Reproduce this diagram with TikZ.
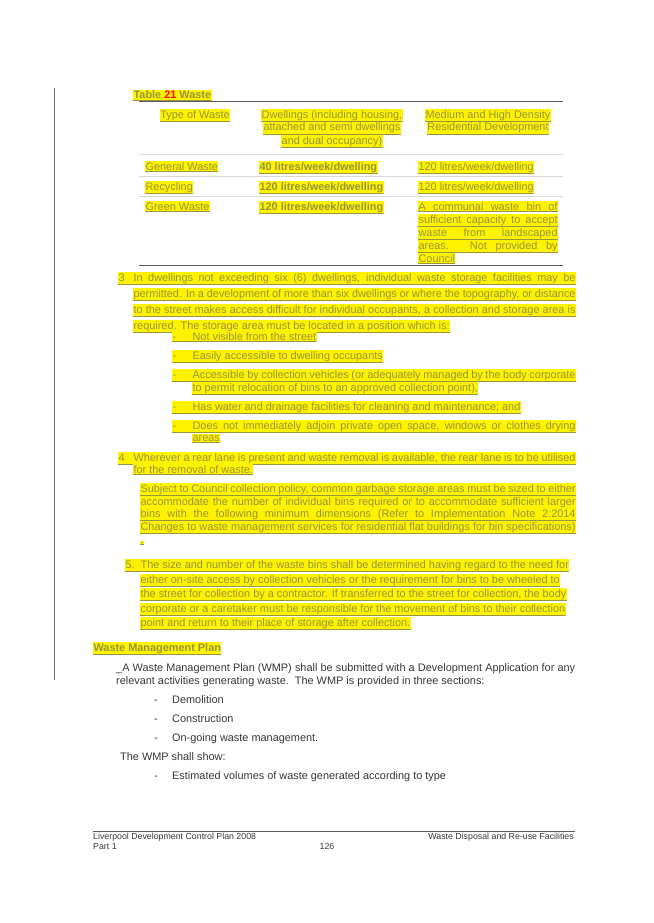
\documentclass[tikz,border=0pt]{standalone}
\usepackage{fontspec}
\setmainfont{Liberation Sans}
\definecolor{hltext}{RGB}{150,150,62}
\definecolor{bodytext}{RGB}{55,55,55}
\definecolor{rulegray}{RGB}{90,90,90}
\newcommand{\J}[2]{\makebox[#1pt][s]{#2}}
\newcommand{\lab}[2]{\makebox[#1pt][l]{#2}}
\tikzset{
  hl/.style={fill=yellow, text=hltext, inner xsep=0.4pt, inner ysep=1.3pt, anchor=base west,
    font=\fontsize{10.9}{12}\selectfont,
    path picture={\draw[hltext,line width=0.5pt] ([yshift=0.5pt]path picture bounding box.south west) -- ([yshift=0.5pt]path picture bounding box.south east);}},
  hlc/.style={hl, anchor=base},
  hlb/.style={hl, font=\fontsize{10.9}{12}\bfseries},
  plain/.style={text=bodytext, inner sep=0pt, anchor=base west, font=\fontsize{10.9}{12}\selectfont},
  foot/.style={text=bodytext, inner sep=0pt, anchor=base west, font=\fontsize{8.8}{10}\selectfont},
  toprule/.style={rulegray, line width=1.3pt},
  midrule/.style={black!15, line width=1pt}
}
\begin{document}
\begin{tikzpicture}[x=1pt,y=-1pt]
	\useasboundingbox[fill=white] (0,0) rectangle (653,923);
	% margin bar
	\draw[black!55, line width=0.8pt] (54,88) -- (54,680);

	% table
	\node[hlb] (ttitle) at (133,99) {Table \textcolor{red}{21} Waste};
	\draw[toprule] (139,101.5) -- (563,101.5);
	\node[hlc] (hdone) at (195,118) {Type of Waste};
	\node[hlc] (hdtwoa) at (332,118) {Dwellings (including housing,};
	\node[hlc] (hdtwob) at (332,131) {attached and semi dwellings};
	\node[hlc] (hdtwoc) at (332,144) {and dual occupancy)};
	\node[hlc] (hdthreea) at (488,118) {Medium and High Density};
	\node[hlc] (hdthreeb) at (488,131) {Residential Development};
	\draw[midrule] (139,154) -- (563,154);
	\node[hl] (genwaste) at (145,170) {General Waste};
	\node[hlb] (gentwo) at (259,170) {40 litres/week/dwelling};
	\node[hl] (genthree) at (418,170) {120 litres/week/dwelling};
	\draw[midrule] (139,176) -- (563,176);
	\node[hl] (recycl) at (145,190) {Recycling};
	\node[hlb] (rectwo) at (259,190) {120 litres/week/dwelling};
	\node[hl] (recthree) at (418,190) {120 litres/week/dwelling};
	\draw[midrule] (139,196) -- (563,196);
	\node[hl] (green) at (145,210) {Green Waste};
	\node[hlb] (greentwo) at (259,210) {120 litres/week/dwelling};
	\node[hl] (greena) at (418,210) {\J{139}{A communal waste bin of}};
	\node[hl] (greenb) at (418,223) {\J{139}{sufficient capacity to accept}};
	\node[hl] (greenc) at (418,236) {\J{139}{waste from landscaped}};
	\node[hl] (greend) at (418,249) {\J{139}{areas. Not provided by}};
	\node[hl] (greene) at (418,262) {Council};
	\draw[toprule] (139,265.5) -- (563,265.5);

	% item 3
	\node[hl] (pthreea) at (118,281) {\lab{15}{3}\J{442}{In dwellings not exceeding six (6) dwellings, individual waste storage facilities may be}};
	\node[hl] (pthreeb) at (133,297) {\J{442}{permitted. In a development of more than six dwellings or where the topography, or distance}};
	\node[hl] (pthreec) at (133,313) {\J{442}{to the street makes access difficult for individual occupants, a collection and storage area is}};
	\node[hl] (pthreed) at (133,329) {required. The storage area must be located in a position which is:};
	\node[hl] (bulla) at (172,340) {\lab{20}{-}Not visible from the street};
	\node[hl] (bullb) at (172,359) {\lab{20}{-}Easily accessible to dwelling occupants};
	\node[hl] (bullc) at (172,378) {\lab{20}{-}\J{383}{Accessible by collection vehicles (or adequately managed by the body corporate}};
	\node[hl] (bullcc) at (192,391) {to permit relocation of bins to an approved collection point),};
	\node[hl] (bulld) at (172,410) {\lab{20}{-}Has water and drainage facilities for cleaning and maintenance; and};
	\node[hl] (bulle) at (172,429) {\lab{20}{-}\J{383}{Does not immediately adjoin private open space, windows or clothes drying}};
	\node[hl] (bullee) at (192,441) {areas};

	% item 4
	\node[hl] (pfoura) at (118,461) {\lab{15}{4}\J{442}{Wherever a rear lane is present and waste removal is available, the rear lane is to be utilised}};
	\node[hl] (pfourb) at (133,473) {for the removal of waste.};
	\node[hl] (subja) at (140,492) {\J{435}{Subject to Council collection policy, common garbage storage areas must be sized to either}};
	\node[hl] (subjb) at (140,505) {\J{435}{accommodate the number of individual bins required or to accommodate sufficient larger}};
	\node[hl] (subjc) at (140,517) {\J{435}{bins with the following minimum dimensions (Refer to Implementation Note 2:2014}};
	\node[hl] (subjd) at (140,530) {\J{435}{Changes to waste management services for residential flat buildings for bin specifications)}};
	\node[hl] (subje) at (140,543) {.};

	% item 5
	\node[hl] (pfivea) at (125,568) {\lab{15}{5.}The size and number of the waste bins shall be determined having regard to the need for};
	\node[hl] (pfiveb) at (140,583) {either on-site access by collection vehicles or the requirement for bins to be wheeled to};
	\node[hl] (pfivec) at (140,597) {the street for collection by a contractor. If transferred to the street for collection, the body};
	\node[hl] (pfived) at (140,612) {corporate or a caretaker must be responsible for the movement of bins to their collection};
	\node[hl] (pfivee) at (140,626) {point and return to their place of storage after collection.};

	% waste management plan
	\node[hlb] (wmphead) at (93,651) {Waste Management Plan};
	\node[plain] (wmpa) at (116,671) {\J{459}{\_A Waste Management Plan (WMP) shall be submitted with a Development Application for any}};
	\node[plain] (wmpb) at (116,684) {relevant activities generating waste.\ \ The WMP is provided in three sections:};
	\node[plain] (secta) at (154,703) {\lab{18}{-}Demolition};
	\node[plain] (sectb) at (154,722) {\lab{18}{-}Construction};
	\node[plain] (sectc) at (154,741) {\lab{18}{-}On-going waste management.};
	\node[plain] (show) at (120,760) {The WMP shall show:};
	\node[plain] (showa) at (154,779) {\lab{18}{-}Estimated volumes of waste generated according to type};

	% footer
	\draw[rulegray, line width=0.6pt] (93,831) -- (575,831);
	\node[foot] (footl) at (93,839) {Liverpool Development Control Plan 2008};
	\node[foot] (footp) at (93,849) {Part 1};
	\node[foot, anchor=base] (page) at (327,849) {126};
	\node[foot, anchor=base east] (footr) at (574,839) {Waste Disposal and Re-use Facilities};
\end{tikzpicture}
\end{document}
